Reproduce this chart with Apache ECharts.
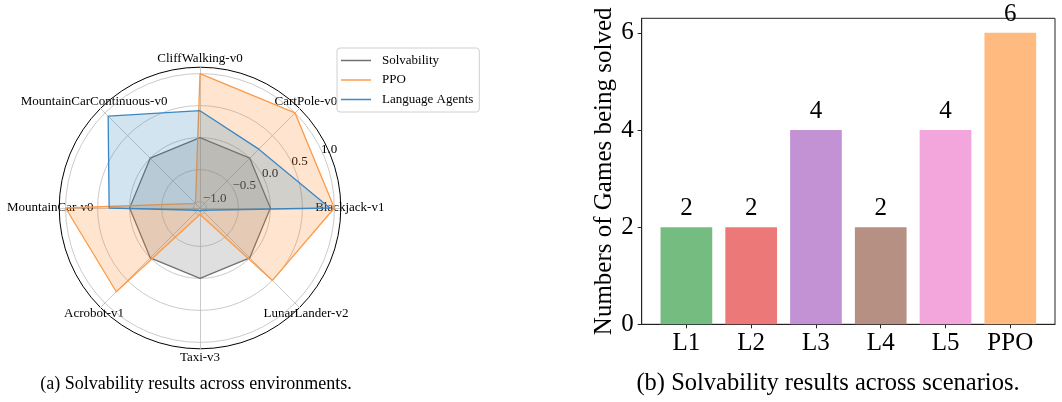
<!DOCTYPE html>
<html>
<head>
<meta charset="utf-8">
<script src="https://cdn.jsdelivr.net/npm/echarts@6/dist/echarts.min.js"></script>
<style>
html, body { margin: 0; padding: 0; background: #fff; }
#cn { width: 1062px; height: 402px; }
</style>
</head>
<body>
<div id="cn"></div>
<script>
'use strict';

// radar (a) - indicators listed counterclockwise from the top
const envNames = ['CliffWalking-v0', 'MountainCarContinuous-v0', 'MountainCar-v0', 'Acrobot-v1',
    'Taxi-v3', 'LunarLander-v2', 'Blackjack-v1', 'CartPole-v0'];
const solvability = [0, 0, 0, 0, 0, 0, 0, 0];
const ppo = [1.0, -1.0, 1.0, 0.75, -1.0, 0.5, 1.0, 1.0];
const languageAgents = [0.42, 0.93, 0.32, -1.05, -1.05, -1.05, 0.93, 0.2];
const rTicks = [-1.0, -0.5, 0.0, 0.5, 1.0];

// bars (b)
const scenarios = ['L1', 'L2', 'L3', 'L4', 'L5', 'PPO'];
const gamesSolved = [2, 2, 4, 2, 4, 6];
const yTicks = [0, 2, 4, 6];
const barColors = ['#74bc80', '#ed7878', '#c292d5', '#b69183', '#f2a6dc', '#ffba80'];

const SERIF = '"Liberation Serif", "DejaVu Serif", serif';
const fmtR = v => v.toFixed(1).replace('-', '\u2212');
const CENTER = [200, 208];

const chart = echarts.init(document.getElementById('cn'));

const radarSeries = [
    {name: 'Solvability', data: solvability, line: '#707070', area: '#808080', op: 0.25},
    {name: 'PPO', data: ppo, line: '#fd9d4c', area: '#ff7f0e', op: 0.2},
    {name: 'Language Agents', data: languageAgents, line: '#3d89c6', area: '#1f77b4', op: 0.2}
].map(s => ({
    type: 'radar',
    radarIndex: 0,
    symbol: 'none',
    z: 3,
    data: [{
        name: s.name,
        value: s.data,
        lineStyle: {color: s.line, width: 1.3},
        itemStyle: {color: s.line},
        areaStyle: {color: s.area, opacity: s.op}
    }]
}));

const option = {
    animation: false,
    radar: {
        center: CENTER,
        radius: 140.8,
        startAngle: 90,
        shape: 'circle',
        splitNumber: 1,
        indicator: envNames.map(n => ({name: n, min: -1.1, max: 1.1})),
        nameGap: 9,
        axisName: {
            color: '#000',
            fontFamily: SERIF,
            fontSize: 13,
            align: 'center',
            verticalAlign: 'middle'
        },
        splitLine: {lineStyle: {color: '#000', width: 1}},
        splitArea: {show: false},
        axisLine: {lineStyle: {color: '#bdbdbd', width: 0.8}}
    },
    polar: {
        center: CENTER,
        radius: [6.4, 134.4]
    },
    angleAxis: {
        type: 'value',
        min: 0,
        max: 360,
        startAngle: 22.5,
        show: false
    },
    radiusAxis: {
        type: 'value',
        min: -1,
        max: 1,
        interval: 0.5,
        z: 1,
        axisLine: {show: false},
        axisTick: {show: false},
        splitLine: {show: true, lineStyle: {color: '#bdbdbd', width: 0.8}},
        axisLabel: {
            show: true,
            margin: 8,
            align: 'left',
            formatter: v => fmtR(v),
            color: '#000',
            fontFamily: SERIF,
            fontSize: 13
        }
    },
    legend: {
        orient: 'vertical',
        left: 337,
        top: 48,
        padding: [6, 6, 6, 4],
        itemGap: 6.5,
        itemWidth: 30,
        itemHeight: 1.5,
        icon: 'rect',
        borderColor: '#d0d0d0',
        borderWidth: 1,
        borderRadius: 3,
        textStyle: {fontFamily: SERIF, fontSize: 13, color: '#000', padding: [0, 0, 0, 6]},
        data: [
            {name: 'Solvability', itemStyle: {color: '#707070'}},
            {name: 'PPO', itemStyle: {color: '#fd9d4c'}},
            {name: 'Language Agents', itemStyle: {color: '#3d89c6'}}
        ]
    },
    grid: {
        left: 641.7,
        right: 7,
        top: 18.3,
        bottom: 77.7,
        show: true,
        borderColor: '#222',
        borderWidth: 1
    },
    xAxis: {
        type: 'value',
        min: -0.69,
        max: 5.69,
        splitLine: {show: false},
        axisLine: {onZero: false, lineStyle: {color: '#222'}},
        axisTick: {show: true, length: 4, customValues: scenarios.map((c, i) => i), lineStyle: {color: '#222'}},
        axisLabel: {
            customValues: scenarios.map((c, i) => i),
            formatter: v => scenarios[v],
            margin: 7,
            color: '#000',
            fontFamily: SERIF,
            fontSize: 25
        }
    },
    yAxis: {
        type: 'value',
        min: 0,
        max: 6.3,
        name: 'Numbers of Games being solved',
        nameLocation: 'middle',
        nameGap: 25,
        nameTextStyle: {fontFamily: SERIF, fontSize: 25, color: '#000'},
        splitLine: {show: false},
        axisLine: {show: true, onZero: false, lineStyle: {color: '#222'}},
        axisTick: {show: true, length: 4, customValues: yTicks, lineStyle: {color: '#222'}},
        axisLabel: {
            customValues: yTicks,
            margin: 8,
            color: '#000',
            fontFamily: SERIF,
            fontSize: 25
        }
    },
    graphic: [
        {
            type: 'text', x: 196, y: 384,
            style: {text: '(a) Solvability results across environments.', fontFamily: SERIF, fontSize: 18,
                fill: '#000', align: 'center', verticalAlign: 'middle'}
        },
        {
            type: 'text', x: 828, y: 384,
            style: {text: '(b) Solvability results across scenarios.', fontFamily: SERIF, fontSize: 24.5,
                fill: '#000', align: 'center', verticalAlign: 'middle'}
        }
    ],
    series: radarSeries.concat([{
        type: 'bar',
        barWidth: 51.7,
        data: gamesSolved.map((v, i) => ({value: [i, v], itemStyle: {color: barColors[i]}})),
        label: {
            show: true,
            position: 'top',
            distance: 6,
            formatter: p => p.value[1],
            color: '#000',
            fontFamily: SERIF,
            fontSize: 25
        }
    }])
};

chart.setOption(option);
</script>
</body>
</html>
